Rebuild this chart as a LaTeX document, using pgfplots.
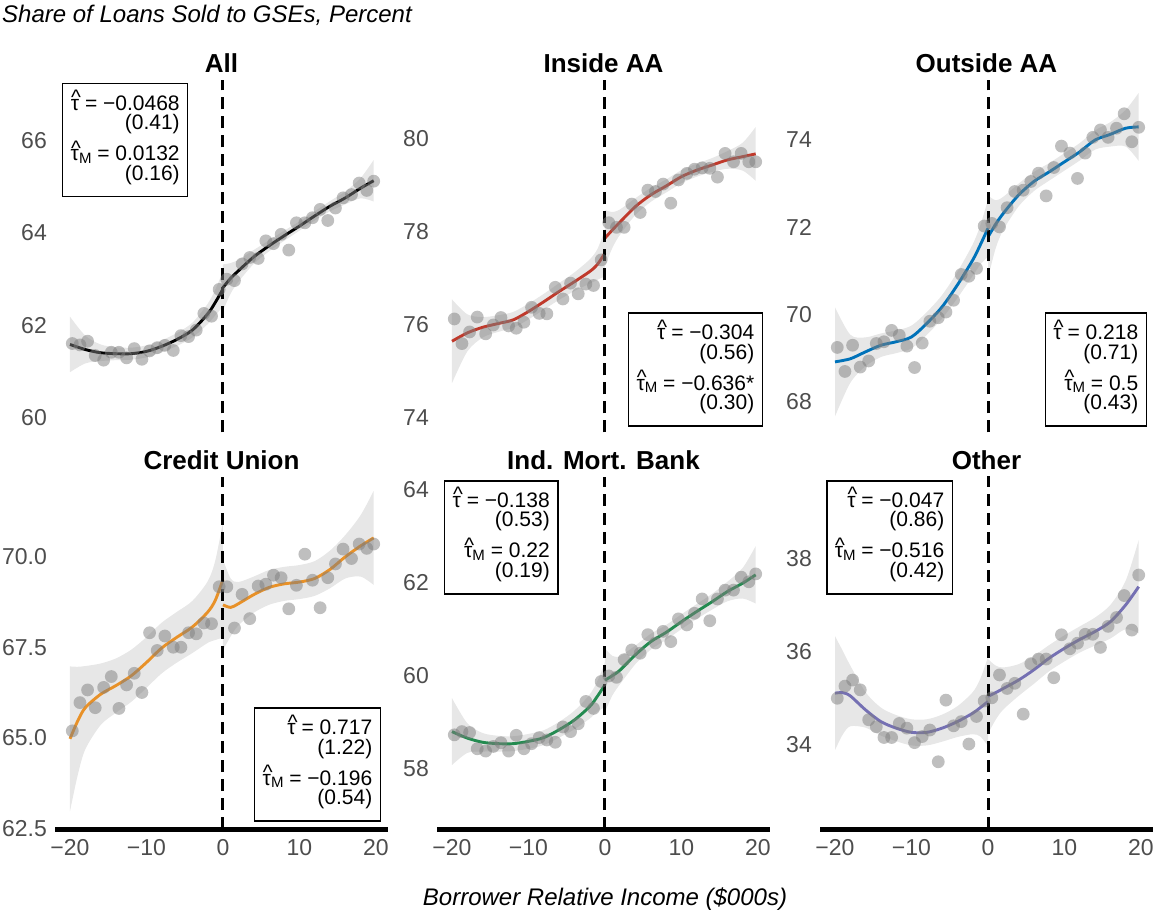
\documentclass[border=0pt]{standalone}
\usepackage{fontspec}
\setmainfont{Liberation Sans}
\usepackage{pgfplots}
\usepackage{pgfplotstable}
\pgfplotsset{compat=1.18}
\usepgfplotslibrary{fillbetween}

\definecolor{tickgray}{RGB}{77,77,77}
\definecolor{ribbon}{RGB}{231,231,231}
\definecolor{dotgray}{RGB}{127,127,127}
\definecolor{cAll}{RGB}{0,0,0}
\definecolor{cIn}{RGB}{192,57,43}
\definecolor{cOut}{RGB}{0,114,185}
\definecolor{cCU}{RGB}{232,145,40}
\definecolor{cIMB}{RGB}{35,139,80}
\definecolor{cOth}{RGB}{117,112,179}

\newcommand\tickfont{\fontsize{23}{23}\selectfont}
\newcommand\boxfont{\fontsize{21}{19.5}\selectfont\lineskiplimit=-40pt\relax}
\newcommand\htau{\ooalign{τ\cr\hidewidth\kern0.1em\raisebox{0.26em}{\textasciicircum}\hidewidth\cr}}
\newcommand\htauM{\htau\raisebox{-0.12em}{\fontsize{15}{15}\selectfont M}}

% ---------- data: bin points ----------
\pgfplotstableread{
x y
-19.7 61.61
-18.7 61.58
-17.7 61.66
-16.7 61.35
-15.6 61.25
-14.6 61.42
-13.6 61.42
-12.6 61.30
-11.6 61.50
-10.6 61.27
-9.6 61.45
-8.6 61.52
-7.6 61.57
-6.5 61.46
-5.5 61.78
-4.5 61.76
-3.5 61.90
-2.5 62.26
-1.5 62.20
-0.5 62.78
0.5 63.00
1.5 62.97
2.5 63.33
3.5 63.47
4.6 63.45
5.6 63.83
6.6 63.77
7.6 63.97
8.6 63.63
9.6 64.22
10.7 64.22
11.7 64.33
12.7 64.51
13.7 64.27
14.7 64.54
15.7 64.76
16.8 64.83
17.8 65.08
18.8 64.92
19.7 65.12
}\dA
\pgfplotstableread{
x y h
-20 61.59 0.60
-18 61.48 0.30
-16 61.41 0.18
-14 61.39 0.14
-12 61.39 0.13
-10 61.44 0.13
-8 61.55 0.13
-6 61.70 0.14
-4 61.90 0.16
-2 62.25 0.22
-1 62.50 0.28
0 62.79 0.38
}\lA
\pgfplotstableread{
x y h
0 62.82 0.50
1 63.02 0.33
2 63.18 0.24
4 63.48 0.15
6 63.72 0.12
8 63.94 0.11
10 64.15 0.10
12 64.37 0.10
14 64.58 0.11
16 64.76 0.14
18 64.97 0.22
19.7 65.13 0.45
}\rA

\pgfplotstableread{
x y
-19.7 76.13
-18.7 75.60
-17.7 75.85
-16.7 76.17
-15.6 75.81
-14.6 76.00
-13.6 76.16
-12.6 75.98
-11.6 75.93
-10.6 76.06
-9.6 76.38
-8.6 76.25
-7.6 76.24
-6.5 76.81
-5.5 76.56
-4.5 76.90
-3.5 76.67
-2.5 76.88
-1.5 76.85
-0.5 77.40
0.5 78.20
1.5 78.10
2.5 78.10
3.5 78.60
4.6 78.42
5.6 78.90
6.6 78.87
7.6 79.03
8.6 78.62
9.6 79.12
10.7 79.26
11.7 79.35
12.7 79.38
13.7 79.37
14.7 79.18
15.7 79.69
16.8 79.51
17.8 79.69
18.8 79.51
19.7 79.51
}\dB
\pgfplotstableread{
x y h
-20 75.65 0.90
-18 75.83 0.40
-16 75.95 0.22
-14 76.03 0.18
-12 76.11 0.17
-10 76.29 0.17
-8 76.50 0.17
-6 76.72 0.18
-4 76.93 0.20
-2 77.15 0.26
-1 77.30 0.33
0 77.55 0.50
}\lB
\pgfplotstableread{
x y h
0 77.87 0.60
1 78.05 0.38
2 78.22 0.27
4 78.55 0.18
6 78.80 0.15
8 78.99 0.14
10 79.19 0.14
12 79.33 0.14
14 79.44 0.15
16 79.55 0.19
18 79.62 0.30
19.7 79.68 0.58
}\rB

\pgfplotstableread{
x y
-19.7 69.25
-18.7 68.70
-17.7 69.30
-16.7 68.80
-15.6 68.94
-14.6 69.34
-13.6 69.38
-12.6 69.64
-11.6 69.53
-10.6 69.28
-9.6 68.79
-8.6 69.35
-7.6 69.85
-6.5 69.93
-5.5 70.06
-4.5 70.33
-3.5 70.92
-2.5 70.88
-1.5 71.06
-0.5 72.03
0.5 72.09
1.5 72.01
2.5 72.45
3.5 72.82
4.6 72.85
5.6 73.05
6.6 73.24
7.6 72.72
8.6 73.37
9.6 73.86
10.7 73.70
11.7 73.12
12.7 73.70
13.7 74.06
14.7 74.23
15.7 74.06
16.8 74.27
17.8 74.60
18.8 73.96
19.7 74.29
}\dC
\pgfplotstableread{
x y h
-20 68.92 1.25
-18 68.99 0.55
-16 69.15 0.33
-14 69.30 0.27
-12 69.38 0.26
-10 69.49 0.26
-8 69.80 0.26
-6 70.18 0.27
-4 70.68 0.30
-2 71.25 0.36
-1 71.60 0.45
0 71.98 0.65
}\lC
\pgfplotstableread{
x y h
0 71.78 0.95
1 72.07 0.55
2 72.32 0.38
4 72.74 0.26
6 73.05 0.22
8 73.27 0.20
10 73.50 0.20
12 73.73 0.20
14 74.00 0.22
16 74.13 0.28
18 74.27 0.42
19.7 74.30 0.78
}\rC

\pgfplotstableread{
x y
-19.7 65.19
-18.7 65.97
-17.7 66.32
-16.7 65.83
-15.6 66.39
-14.6 66.69
-13.6 65.81
-12.6 66.46
-11.6 66.78
-10.6 66.25
-9.6 67.90
-8.6 67.41
-7.6 67.81
-6.5 67.50
-5.5 67.50
-4.5 67.90
-3.5 67.87
-2.5 68.17
-1.5 68.15
-0.5 69.17
0.5 69.17
1.5 68.03
2.5 68.96
3.5 68.29
4.6 69.19
5.6 69.24
6.6 69.49
7.6 69.42
8.6 68.56
9.6 69.21
10.7 70.07
11.7 69.35
12.7 68.59
13.7 69.42
14.7 69.80
15.7 70.21
16.8 69.95
17.8 70.35
18.8 70.23
19.7 70.35
}\dD
\pgfplotstableread{
x y h
-20 64.97 2.00
-19 65.46 1.50
-18 65.83 1.15
-16 66.20 0.85
-14 66.44 0.75
-12 66.71 0.72
-10 67.08 0.70
-8 67.48 0.70
-6 67.78 0.70
-4 68.06 0.72
-2 68.47 0.85
-1 68.80 1.10
0 69.37 1.60
}\lD
\pgfplotstableread{
x y h
0 68.67 1.25
1 68.60 0.80
2 68.70 0.60
4 68.95 0.50
6 69.15 0.48
8 69.25 0.47
10 69.30 0.47
12 69.40 0.48
14 69.65 0.52
16 70.00 0.60
18 70.30 0.85
19.7 70.52 1.30
}\rD

\pgfplotstableread{
x y
-19.7 58.72
-18.7 58.79
-17.7 58.77
-16.7 58.42
-15.6 58.37
-14.6 58.47
-13.6 58.55
-12.6 58.37
-11.6 58.71
-10.6 58.42
-9.6 58.53
-8.6 58.66
-7.6 58.61
-6.5 58.56
-5.5 58.89
-4.5 58.79
-3.5 58.96
-2.5 59.44
-1.5 59.29
-0.5 59.87
0.5 59.99
1.5 59.96
2.5 60.34
3.5 60.55
4.6 60.48
5.6 60.88
6.6 60.70
7.6 60.95
8.6 60.73
9.6 61.22
10.7 61.09
11.7 61.34
12.7 61.65
13.7 61.18
14.7 61.65
15.7 61.84
16.8 61.84
17.8 62.12
18.8 62.02
19.7 62.19
}\dE
\pgfplotstableread{
x y h
-20 58.79 0.72
-18 58.65 0.32
-16 58.56 0.20
-14 58.53 0.17
-12 58.53 0.16
-10 58.58 0.16
-8 58.66 0.16
-6 58.83 0.17
-4 59.04 0.20
-2 59.33 0.26
-1 59.55 0.33
0 59.80 0.48
}\lE
\pgfplotstableread{
x y h
0 59.90 0.68
1 60.00 0.42
2 60.12 0.30
4 60.45 0.20
6 60.73 0.17
8 60.93 0.16
10 61.16 0.16
12 61.38 0.16
14 61.59 0.17
16 61.81 0.21
18 61.99 0.33
19.7 62.17 0.62
}\rE

\pgfplotstableread{
x y
-19.7 35.00
-18.7 35.26
-17.7 35.39
-16.7 35.18
-15.6 34.54
-14.6 34.39
-13.6 34.16
-12.6 34.16
-11.6 34.46
-10.6 34.36
-9.6 34.05
-8.6 34.18
-7.6 34.32
-6.5 33.64
-5.5 34.96
-4.5 34.41
-3.5 34.50
-2.5 34.02
-1.5 34.61
-0.5 34.94
0.5 35.01
1.5 35.50
2.5 35.21
3.5 35.32
4.6 34.66
5.6 35.74
6.6 35.84
7.6 35.84
8.6 35.44
9.6 36.36
10.7 36.06
11.7 36.18
12.7 36.37
13.7 36.37
14.7 36.09
15.7 36.54
16.8 36.73
17.8 37.20
18.8 36.46
19.7 37.64
}\dF
\pgfplotstableread{
x y h
-20 35.11 1.22
-19 35.12 0.90
-18 35.05 0.65
-16 34.75 0.38
-14 34.50 0.30
-12 34.36 0.28
-10 34.27 0.28
-8 34.27 0.28
-6 34.36 0.29
-4 34.50 0.33
-2 34.68 0.45
-1 34.80 0.62
0 34.93 0.95
}\lF
\pgfplotstableread{
x y h
0 35.04 0.80
1 35.12 0.58
2 35.21 0.45
4 35.39 0.34
6 35.61 0.30
8 35.86 0.28
10 36.07 0.28
12 36.26 0.28
14 36.43 0.30
16 36.64 0.36
18 37.00 0.52
19.7 37.39 1.00
}\rF

\pgfplotsset{
  panel/.style={
    scale only axis, width=333pt, height=352.5pt,
    xmin=-21.96, xmax=21.57, clip=false,
    axis line style={draw=none}, tick style={draw=none}, major tick length=0pt,
    yticklabel style={font=\tickfont, text=tickgray, inner sep=0pt, anchor=east, xshift=-8pt},
    xticklabel style={font=\tickfont, text=tickgray, inner sep=0pt, anchor=north, yshift=-10pt},
    xtick=\empty,
  },
  bottompanel/.style={xtick={-20,-10,0,10,20}, xticklabels={−20,−10,0,10,20}},
}

\newcommand\drawpanel[5]{%
  \addplot[draw=none, name path=#5LU, smooth, forget plot] table[x=x, y expr=\thisrow{y}+\thisrow{h}] {#2};
  \addplot[draw=none, name path=#5LL, smooth, forget plot] table[x=x, y expr=\thisrow{y}-\thisrow{h}] {#2};
  \addplot[fill=ribbon, draw=none, forget plot] fill between[of=#5LU and #5LL];
  \addplot[draw=none, name path=#5RU, smooth, forget plot] table[x=x, y expr=\thisrow{y}+\thisrow{h}] {#3};
  \addplot[draw=none, name path=#5RL, smooth, forget plot] table[x=x, y expr=\thisrow{y}-\thisrow{h}] {#3};
  \addplot[fill=ribbon, draw=none, forget plot] fill between[of=#5RU and #5RL];
  \addplot[only marks, mark=*, mark size=6.4pt, draw opacity=0, fill=dotgray, fill opacity=0.5,
    mark options={draw opacity=0, line width=0pt, fill=dotgray, fill opacity=0.5}] table[x=x, y=y] {#1};
  \addplot[#4, line width=2.9pt, smooth] table[x=x, y=y] {#2};
  \addplot[#4, line width=2.9pt, smooth] table[x=x, y=y] {#3};
  \draw[black, line width=3pt, dash pattern=on 12pt off 7pt]
    (axis cs:0,\pgfkeysvalueof{/pgfplots/ymin}) -- (axis cs:0,\pgfkeysvalueof{/pgfplots/ymax});
}
\newcommand\ptitle[1]{\node[anchor=base, inner sep=0pt, font=\bfseries\fontsize{26}{26}\selectfont] at (rel axis cs:0.5,1) [yshift=7pt] {#1};}
\newcommand\xaxisline{\draw[black, line width=5pt] (rel axis cs:0,0) -- (rel axis cs:1,0);}
\tikzset{statbox/.style={draw=black, line width=1.5pt, fill=white, align=right, inner xsep=8pt, inner ysep=12pt, font=\boxfont}}

\begin{document}
\begin{tikzpicture}

% ---- All
\begin{axis}[panel, at={(55pt,478.5pt)}, anchor=south west,
  ymin=59.686, ymax=67.308, ytick={60,62,64,66}, yticklabels={60,62,64,66}]
\drawpanel{\dA}{\lA}{\rA}{cAll}{a}
\ptitle{All}
\node[statbox, anchor=north west] at (rel axis cs:0.021,0.9915)
  {\htau{} = −0.0468\\(0.41)\\[11.5pt]\htauM{} = 0.0132\\(0.16)};
\end{axis}

% ---- Inside AA
\begin{axis}[panel, at={(437pt,478.5pt)}, anchor=south west,
  ymin=73.688, ymax=81.269, ytick={74,76,78,80}, yticklabels={74,76,78,80}]
\drawpanel{\dB}{\lB}{\rB}{cIn}{b}
\ptitle{Inside AA}
\node[statbox, anchor=south east] at (rel axis cs:0.979,0.0156)
  {\htau{} = −0.304\\(0.56)\\[11.5pt]\htauM{} = −0.636*\\(0.30)};
\end{axis}

% ---- Outside AA
\begin{axis}[panel, at={(820pt,478.5pt)}, anchor=south west,
  ymin=67.302, ymax=75.374, ytick={68,70,72,74}, yticklabels={68,70,72,74}]
\drawpanel{\dC}{\lC}{\rC}{cOut}{c}
\ptitle{Outside AA}
\node[statbox, anchor=south east] at (rel axis cs:0.982,0.0156)
  {\htau{} = 0.218\\(0.71)\\[11.5pt]\htauM{} = 0.5\\(0.43)};
\end{axis}

% ---- Credit Union
\begin{axis}[panel, bottompanel, at={(55pt,82pt)}, anchor=south west,
  ymin=62.48, ymax=72.215, ytick={62.5,65,67.5,70}, yticklabels={62.5,65.0,67.5,70.0}]
\drawpanel{\dD}{\lD}{\rD}{cCU}{d}
\xaxisline
\ptitle{Credit Union}
\node[statbox, anchor=south east] at (rel axis cs:0.979,0.02)
  {\htau{} = 0.717\\(1.22)\\[11.5pt]\htauM{} = −0.196\\(0.54)};
\end{axis}

% ---- Ind. Mort. Bank
\begin{axis}[panel, bottompanel, at={(437pt,82pt)}, anchor=south west,
  ymin=56.69, ymax=64.29, ytick={58,60,62,64}, yticklabels={58,60,62,64}]
\drawpanel{\dE}{\lE}{\rE}{cIMB}{e}
\xaxisline
\ptitle{Ind. Mort. Bank}
\node[statbox, anchor=north west] at (rel axis cs:0.021,0.99)
  {\htau{} = −0.138\\(0.53)\\[11.5pt]\htauM{} = 0.22\\(0.19)};
\end{axis}

% ---- Other
\begin{axis}[panel, bottompanel, at={(820pt,82pt)}, anchor=south west,
  ymin=32.2, ymax=39.75, ytick={34,36,38}, yticklabels={34,36,38}]
\drawpanel{\dF}{\lF}{\rF}{cOth}{f}
\xaxisline
\ptitle{Other}
\node[statbox, anchor=north west] at (rel axis cs:0.018,0.99)
  {\htau{} = −0.047\\(0.86)\\[11.5pt]\htauM{} = −0.516\\(0.42)};
\end{axis}

\node[anchor=base west, inner sep=0pt, font=\itshape\fontsize{24}{24}\selectfont] at (2pt,888pt) {Share of Loans Sold to GSEs, Percent};
\node[anchor=base, inner sep=0pt, font=\itshape\fontsize{24}{24}\selectfont] at (605pt,6pt) {Borrower Relative Income (\$000s)};
\pgfresetboundingbox
\path[use as bounding box] (0pt,0pt) rectangle (1154pt,911pt);
\end{tikzpicture}
\end{document}
